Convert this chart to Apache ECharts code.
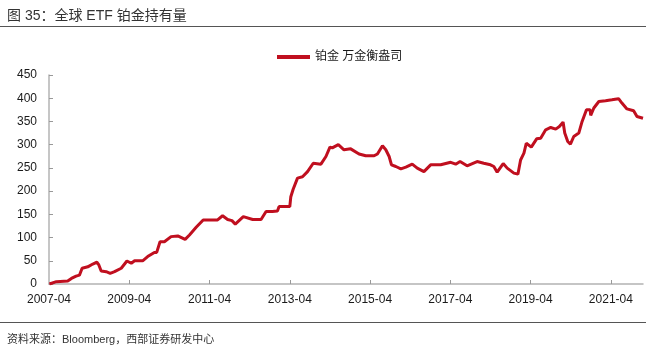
<!DOCTYPE html>
<html>
<head>
<meta charset="utf-8">
<script src="https://cdn.jsdelivr.net/npm/echarts@6/dist/echarts.min.js"></script>
<style>
html,body{margin:0;padding:0;background:#fff;}
#c{width:646px;height:348px;}
</style>
</head>
<body>
<div id="c"></div>
<script>
// ---- data ----
var seriesName = '铂金 万金衡盎司';
var dates = [
'2007-04-05','2007-06-07','2007-09-19','2007-10-22','2007-12-04','2008-01-04','2008-01-28','2008-03-19',
'2008-05-04','2008-06-10','2008-06-28','2008-07-19','2008-09-04','2008-10-10','2008-11-19','2009-01-19',
'2009-03-10','2009-04-19','2009-05-19','2009-08-01','2009-09-16','2009-11-16','2009-12-07','2010-01-07',
'2010-02-16','2010-04-16','2010-06-16','2010-08-22','2010-10-01','2010-12-01','2011-02-04','2011-06-13',
'2011-07-28','2011-09-13','2011-10-22','2011-11-22','2012-02-04','2012-04-28','2012-07-13','2012-08-28',
'2012-10-25','2012-12-10','2012-12-25','2013-04-01','2013-04-10','2013-05-01','2013-06-10','2013-07-25',
'2013-09-10','2013-11-01','2014-01-10','2014-02-25','2014-04-01','2014-04-22','2014-06-16','2014-08-07',
'2014-10-07','2014-12-22','2015-02-22','2015-05-07','2015-06-07','2015-07-22','2015-08-22','2015-09-22',
'2015-10-13','2015-11-22','2016-01-07','2016-02-22','2016-04-19','2016-06-04','2016-08-04','2016-10-04',
'2017-01-04','2017-04-04','2017-05-19','2017-06-28','2017-09-01','2017-12-01','2018-02-01','2018-04-01',
'2018-05-01','2018-06-01','2018-07-25','2018-09-01','2018-11-01','2018-12-07','2019-01-01','2019-02-01',
'2019-02-22','2019-04-07','2019-05-25','2019-07-01','2019-08-16','2019-10-01','2019-11-16','2019-12-19',
'2020-01-22','2020-02-07','2020-03-04','2020-03-28','2020-04-28','2020-06-13','2020-07-13','2020-08-22',
'2020-09-25','2020-09-30','2020-10-28','2020-12-13','2021-02-13','2021-04-10','2021-06-10','2021-07-10',
'2021-08-25','2021-10-25','2021-11-25','2022-01-19'
];
var values = [
0,5,6.5,12,17,19,34,37,
43,47,41,28,26.5,23,26.5,34,
49.6,44.6,50,50,59,68,68,91,
91,102,103.5,96,105.6,122,138,138,
147,139,136.5,129,145,139,139,156,
156,157,166.7,166.7,188,204,228,231,
242,260,258,274.5,294.7,293,300,289,
291,280,276,276,280,297.5,289,274.5,
256.6,253,248,251.6,258,249.5,242,256.6,
256.6,262,258,263.7,254.4,263.7,260,256.6,
253,240.8,259.4,249.5,238.7,236.5,267,281.8,
303,294.7,312.6,314,332,337,333.5,339,
348.6,325,306.8,301,317.6,325,350,375,
375,363,379,393,394.6,396.7,399,389.6,
377,373,360.7,357
];
var xTickLabels = ['2007-04','2009-04','2011-04','2013-04','2015-04','2017-04','2019-04','2021-04'];
var yMin = 0, yMax = 450, yStep = 50;

// month offset from 2007-04 (axis origin)
function monthIndex(s) {
  var p = s.split('-');
  var day = p.length > 2 ? +p[2] : 1;
  return (+p[0] - 2007) * 12 + (+p[1] - 4) + (day - 1) / 30;
}
var lineData = dates.map(function (d, i) { return [monthIndex(d), values[i]]; });
var labelPos = xTickLabels.map(monthIndex);
var labelMap = {};
labelPos.forEach(function (p, i) { labelMap[Math.round(p)] = xTickLabels[i]; });
var xMax = monthIndex(dates[dates.length - 1]);

var chart = echarts.init(document.getElementById('c'), null, {renderer: 'canvas'});
var cjk = '"Liberation Sans", Arial, "Noto Sans CJK SC", sans-serif';
chart.setOption({
  animation: false,
  backgroundColor: '#ffffff',
  title: [
    {text: '图 35：全球 ETF 铂金持有量', left: 2, top: 4,
     textStyle: {fontSize: 14, fontWeight: 'normal', color: '#333', fontFamily: cjk}},
    {text: '资料来源：Bloomberg，西部证券研发中心', left: 2, top: 329,
     textStyle: {fontSize: 11, fontWeight: 'normal', color: '#333', fontFamily: cjk}}
  ],
  graphic: [
    {type: 'line', shape: {x1: 0, y1: 26.5, x2: 646, y2: 26.5}, style: {stroke: '#555', lineWidth: 1}},
    {type: 'line', shape: {x1: 0, y1: 322.5, x2: 646, y2: 322.5}, style: {stroke: '#555', lineWidth: 1}}
  ],
  legend: {
    data: [seriesName], left: 272, top: 46, icon: 'rect', itemWidth: 33, itemHeight: 4,
    textStyle: {fontSize: 12, color: '#1a1a1a', fontFamily: cjk}
  },
  grid: {left: 49, right: 3, top: 75, bottom: 64},
  xAxis: {
    type: 'value', min: 0, max: xMax, interval: 24,
    splitLine: {show: false},
    axisLine: {lineStyle: {color: '#b3b3b3', width: 1.5}},
    axisTick: {inside: true, length: 4, lineStyle: {color: '#999'}, customValues: labelPos.slice(1)},
    axisLabel: {
      customValues: labelPos, color: '#1a1a1a', fontSize: 12, margin: 10, fontFamily: cjk,
      formatter: function (v) { return labelMap[Math.round(v)] || ''; }
    }
  },
  yAxis: {
    type: 'value', min: yMin, max: yMax, interval: yStep,
    splitLine: {show: false},
    axisLine: {show: true, lineStyle: {color: '#b3b3b3', width: 1.5}},
    axisTick: {show: true, inside: true, length: 4, lineStyle: {color: '#999'}},
    axisLabel: {color: '#1a1a1a', fontSize: 12, margin: 12, fontFamily: cjk}
  },
  series: [{
    name: seriesName, type: 'line', data: lineData, showSymbol: false, symbol: 'none',
    lineStyle: {color: '#C00F1F', width: 3}, itemStyle: {color: '#C00F1F'}
  }]
});
</script>
</body>
</html>
